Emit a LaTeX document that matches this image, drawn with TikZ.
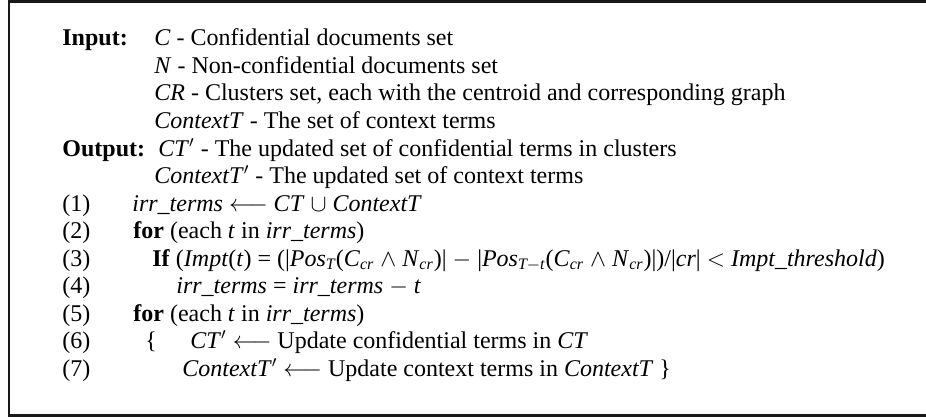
\documentclass[tikz,border=0pt]{standalone}
\usepackage{amsmath}
\usepackage{fontspec}
\setmainfont{Liberation Serif}
\usepackage{tikz}

\begin{document}
\begin{tikzpicture}[x=0.5pt,y=-0.5pt,
   every node/.style={inner sep=0pt,anchor=base west,font=\fontsize{12}{14}\selectfont},
   frame/.style={line width=1.3pt,color=black!90}]
   \useasboundingbox (0,0) rectangle (926,417);
   \coordinate (topright) at (940,1.5);
   \coordinate (topleft) at (9,1.5);
   \coordinate (botleft) at (9,415.5);
   \coordinate (botright) at (940,415.5);
   \draw[frame] (topright) -- (topleft) -- (botleft) -- (botright);

   \draw (62,46) node (input) {\textbf{Input:}};
    \draw (154,46) node (inC) {\textit{C} - Confidential documents set};
    \draw (154,73.5) node (inN) {\textit{N} - Non-confidential documents set};
    \draw (154,101) node (inCR) {\textit{CR} - Clusters set, each with the centroid and corresponding graph};
    \draw (154,128.5) node (inCtx) {\textit{ContextT} - The set of context terms};
   \draw (62,156) node (output) {\textbf{Output:}};
    \draw (158,156) node (outCT) {\textit{CT}$'$ - The updated set of confidential terms in clusters};
    \draw (154,183.5) node (outCtx) {\textit{ContextT}$'$ - The updated set of context terms};

   \draw (62,211) node (l1) {(1)};
    \draw (132,211) node (s1) {\textit{irr\_terms} $\longleftarrow$ \textit{CT} $\cup$ \textit{ContextT}};
   \draw (62,238.5) node (l2) {(2)};
    \draw (133,238.5) node (s2) {\textbf{for} (each \textit{t} in \textit{irr\_terms})};
   \draw (62,266) node (l3) {(3)};
    \draw (152,266) node (s3) {\textbf{If} (\textit{Impt}(\textit{t}) = (|\textit{Pos}$_{\textit{T}}$(\textit{C}$_{\textit{cr}}$ $\wedge$ \textit{N}$_{\textit{cr}}$)| $-$ |\textit{Pos}$_{\textit{T}-\textit{t}}$(\textit{C}$_{\textit{cr}}$ $\wedge$ \textit{N}$_{\textit{cr}}$)|)/|\textit{cr}| $<$ \textit{Impt\_threshold})};
   \draw (62,293.5) node (l4) {(4)};
    \draw (176,293.5) node (s4) {\textit{irr\_terms} = \textit{irr\_terms} $-$ \textit{t}};
   \draw (62,321) node (l5) {(5)};
    \draw (133,321) node (s5) {\textbf{for} (each \textit{t} in \textit{irr\_terms})};
   \draw (62,348.5) node (l6) {(6)};
    \draw (145,348.5) node (brace) {\{};
    \draw (190,348.5) node (s6) {\textit{CT}$'$ $\longleftarrow$ Update confidential terms in \textit{CT}};
   \draw (62,376) node (l7) {(7)};
    \draw (182,376) node (s7) {\textit{ContextT}$'$ $\longleftarrow$ Update context terms in \textit{ContextT} \}};

\end{tikzpicture}
\end{document}
